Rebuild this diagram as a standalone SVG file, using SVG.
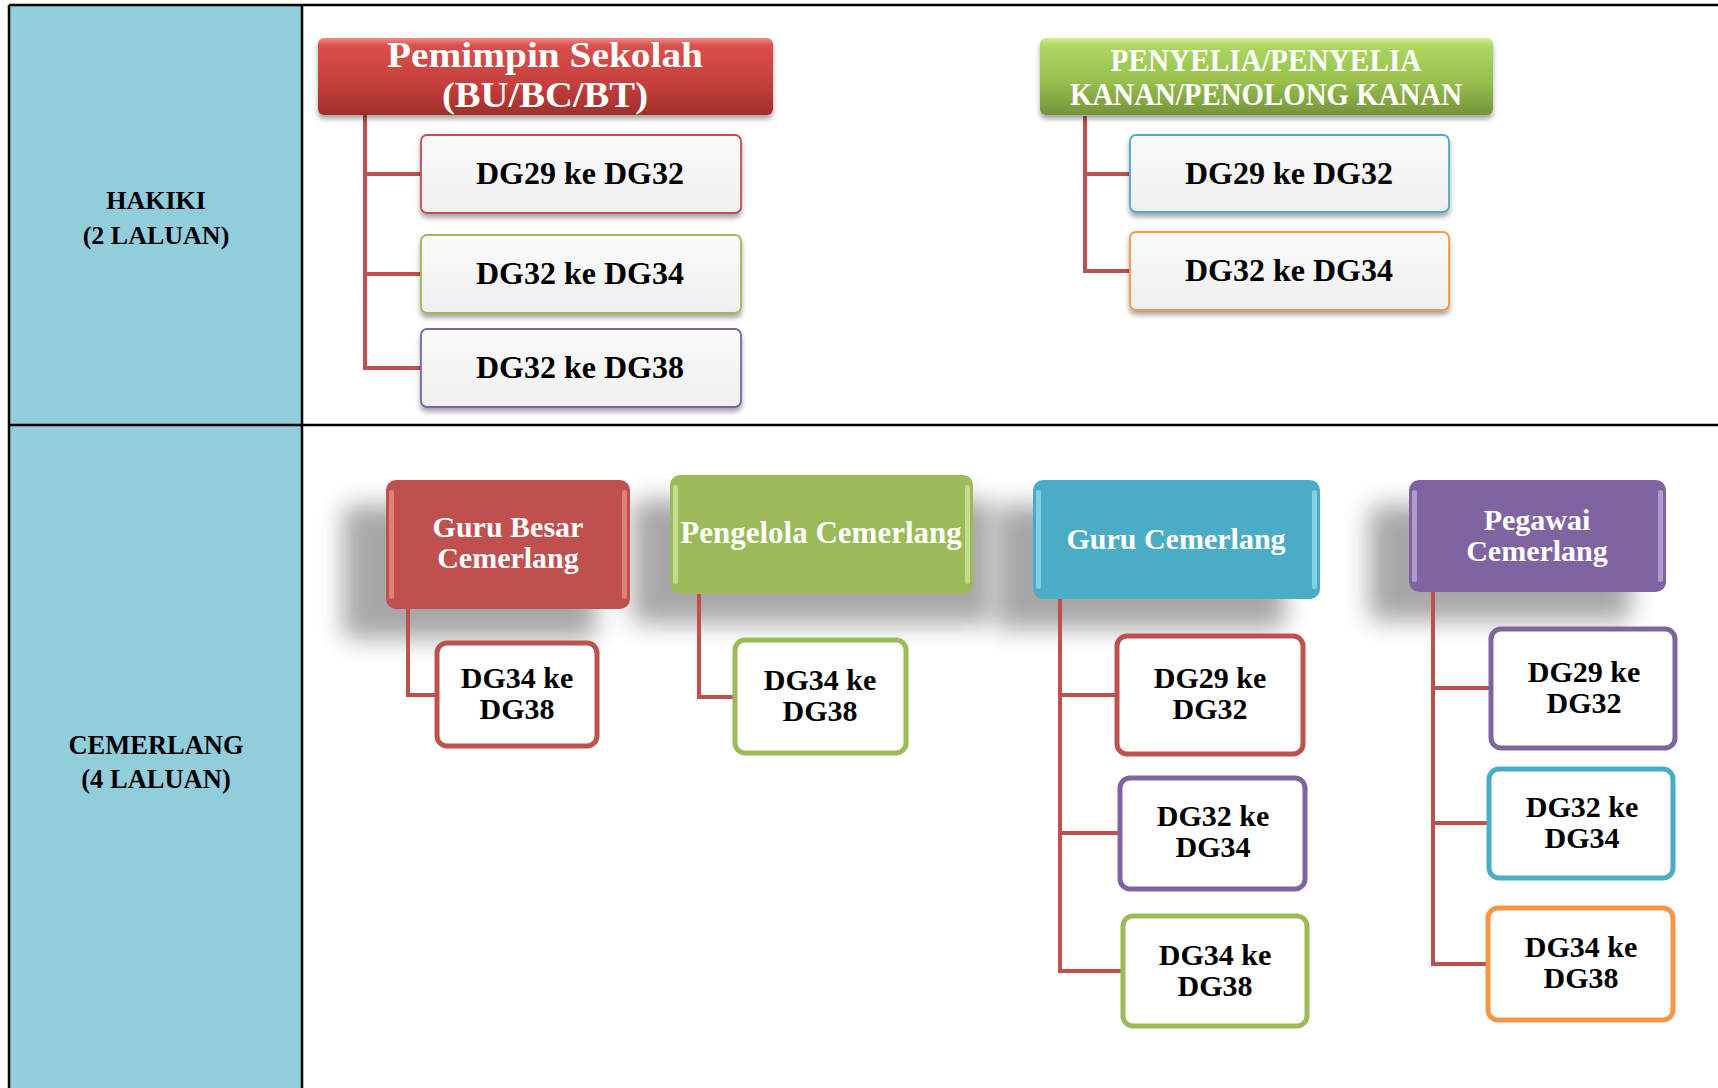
<svg xmlns="http://www.w3.org/2000/svg" width="1718" height="1088" viewBox="0 0 1718 1088">
<defs>
  <linearGradient id="gRed" x1="0" y1="0" x2="0" y2="1">
    <stop offset="0" stop-color="#F08A86"/>
    <stop offset="0.1" stop-color="#DA4F4B"/>
    <stop offset="0.55" stop-color="#C8413D"/>
    <stop offset="1" stop-color="#A12E2B"/>
  </linearGradient>
  <linearGradient id="gGreen" x1="0" y1="0" x2="0" y2="1">
    <stop offset="0" stop-color="#CFEF92"/>
    <stop offset="0.1" stop-color="#ADD761"/>
    <stop offset="0.55" stop-color="#98C14F"/>
    <stop offset="1" stop-color="#76943A"/>
  </linearGradient>
  <linearGradient id="gLight" x1="0" y1="0" x2="0" y2="1">
    <stop offset="0" stop-color="#FBFBFB"/>
    <stop offset="1" stop-color="#EFEFEF"/>
  </linearGradient>
  <filter id="drop" x="-10%" y="-20%" width="120%" height="160%">
    <feDropShadow dx="0" dy="4" stdDeviation="2.5" flood-color="#000" flood-opacity="0.35"/>
  </filter>
  <filter id="blur" x="-40%" y="-40%" width="180%" height="180%">
    <feGaussianBlur stdDeviation="12"/>
  </filter>
  <style>
    .t { font-family: "Liberation Serif", "Times New Roman", serif; font-weight: bold; text-anchor: middle; }
    .w { fill: #ffffff; }
    .k { fill: #000000; }
    .grid { stroke: #000; stroke-width: 2.5; fill: none; }
    .conn { stroke: #C0504D; stroke-width: 4; fill: none; }
    .tb { fill: url(#gLight); stroke-width: 1.8; filter: url(#drop); }
    .cb { fill: #ffffff; stroke-width: 5; }
    .sh { fill: #8a8a8a; opacity: 0.75; filter: url(#blur); }
    .hl { opacity: 0.55; }
  </style>
</defs>

<!-- table -->
<g id="table">
  <rect x="9" y="5" width="293" height="1083" fill="#92CDDC"/>
  <path class="grid" d="M9 5 H1718 M9 5 V1088 M302 5 V1088 M9 425 H1718"/>
  <text class="t k" x="156" y="209" font-size="26">HAKIKI</text>
  <text class="t k" x="156" y="244" font-size="26">(2 LALUAN)</text>
  <text class="t k" x="156" y="754" font-size="26.5">CEMERLANG</text>
  <text class="t k" x="156" y="788" font-size="26.5">(4 LALUAN)</text>
</g>

<!-- soft shadows of the lower headers -->
<g id="shadows">
  <rect class="sh" x="343" y="505" width="253" height="134" rx="10"/>
  <rect class="sh" x="632" y="500" width="360" height="124" rx="10"/>
  <rect class="sh" x="995" y="505" width="290" height="124" rx="10"/>
  <rect class="sh" x="1369" y="505" width="262" height="116" rx="10"/>
</g>

<!-- connectors -->
<g id="connectors">
  <path class="conn" d="M365 115 V368 H421 M365 174 H421 M365 274 H421"/>
  <path class="conn" d="M1085 116 V271 H1130 M1085 174 H1130"/>
  <path class="conn" d="M408 609 V695 H437"/>
  <path class="conn" d="M699 594 V697 H735"/>
  <path class="conn" d="M1060 599 V971 H1123 M1060 695 H1117 M1060 833 H1120"/>
  <path class="conn" d="M1433 592 V964 H1488 M1433 688 H1491 M1433 823 H1489"/>
</g>

<!-- HAKIKI section -->
<g id="pemimpin">
  <rect x="318" y="38" width="455" height="77" rx="6" fill="url(#gRed)" filter="url(#drop)"/>
  <text class="t w" x="545" y="67" font-size="36" textLength="316" lengthAdjust="spacingAndGlyphs">Pemimpin Sekolah</text>
  <text class="t w" x="545" y="107" font-size="36" textLength="206" lengthAdjust="spacingAndGlyphs">(BU/BC/BT)</text>
</g>
<g id="p1">
  <rect class="tb" x="421" y="135" width="320" height="78" rx="6" stroke="#C0504D"/>
  <text class="t k" x="580" y="184" font-size="32">DG29 ke DG32</text>
</g>
<g id="p2">
  <rect class="tb" x="421" y="235" width="320" height="78" rx="6" stroke="#9BBB59"/>
  <text class="t k" x="580" y="284" font-size="32">DG32 ke DG34</text>
</g>
<g id="p3">
  <rect class="tb" x="421" y="329" width="320" height="78" rx="6" stroke="#8064A2"/>
  <text class="t k" x="580" y="378" font-size="32">DG32 ke DG38</text>
</g>

<g id="penyelia">
  <rect x="1040" y="38" width="453" height="77" rx="6" fill="url(#gGreen)" filter="url(#drop)"/>
  <text class="t w" x="1266" y="71" font-size="31" textLength="311" lengthAdjust="spacingAndGlyphs">PENYELIA/PENYELIA</text>
  <text class="t w" x="1266" y="105" font-size="31" textLength="392" lengthAdjust="spacingAndGlyphs">KANAN/PENOLONG KANAN</text>
</g>
<g id="s1">
  <rect class="tb" x="1130" y="135" width="319" height="77" rx="6" stroke="#4BACC6"/>
  <text class="t k" x="1289" y="184" font-size="32">DG29 ke DG32</text>
</g>
<g id="s2">
  <rect class="tb" x="1130" y="232" width="319" height="78" rx="6" stroke="#F79646"/>
  <text class="t k" x="1289" y="281" font-size="32">DG32 ke DG34</text>
</g>

<!-- CEMERLANG section -->
<g id="guru-besar">
  <rect x="386" y="480" width="244" height="129" rx="10" fill="#C0504D"/>
  <rect class="hl" x="389" y="490" width="5" height="109" rx="2.5" fill="#F7A8A5"/>
  <rect class="hl" x="622" y="490" width="5" height="109" rx="2.5" fill="#F7A8A5"/>
  <text class="t w" x="508" y="537" font-size="30">Guru Besar</text>
  <text class="t w" x="508" y="568" font-size="30">Cemerlang</text>
</g>
<g id="gb1">
  <rect class="cb" x="437" y="643" width="160" height="103" rx="10" stroke="#C0504D"/>
  <text class="t k" x="517" y="688" font-size="30">DG34 ke</text>
  <text class="t k" x="517" y="719" font-size="30">DG38</text>
</g>

<g id="pengelola">
  <rect x="670" y="475" width="303" height="119" rx="10" fill="#9BBB59"/>
  <rect class="hl" x="673" y="485" width="5" height="99" rx="2.5" fill="#E2F7B8"/>
  <rect class="hl" x="965" y="485" width="5" height="99" rx="2.5" fill="#E2F7B8"/>
  <text class="t w" x="821" y="543" font-size="31">Pengelola Cemerlang</text>
</g>
<g id="pg1">
  <rect class="cb" x="735" y="640" width="171" height="113" rx="10" stroke="#9BBB59"/>
  <text class="t k" x="820" y="690" font-size="30">DG34 ke</text>
  <text class="t k" x="820" y="721" font-size="30">DG38</text>
</g>

<g id="guru-cemerlang">
  <rect x="1033" y="480" width="287" height="119" rx="10" fill="#4BACC6"/>
  <rect class="hl" x="1036" y="490" width="5" height="99" rx="2.5" fill="#B5EEFA"/>
  <rect class="hl" x="1312" y="490" width="5" height="99" rx="2.5" fill="#B5EEFA"/>
  <text class="t w" x="1176" y="549" font-size="30">Guru Cemerlang</text>
</g>
<g id="gc1">
  <rect class="cb" x="1117" y="636" width="186" height="118" rx="10" stroke="#C0504D"/>
  <text class="t k" x="1210" y="688" font-size="30">DG29 ke</text>
  <text class="t k" x="1210" y="719" font-size="30">DG32</text>
</g>
<g id="gc2">
  <rect class="cb" x="1120" y="778" width="185" height="111" rx="10" stroke="#8064A2"/>
  <text class="t k" x="1213" y="826" font-size="30">DG32 ke</text>
  <text class="t k" x="1213" y="857" font-size="30">DG34</text>
</g>
<g id="gc3">
  <rect class="cb" x="1123" y="916" width="184" height="110" rx="10" stroke="#9BBB59"/>
  <text class="t k" x="1215" y="965" font-size="30">DG34 ke</text>
  <text class="t k" x="1215" y="996" font-size="30">DG38</text>
</g>

<g id="pegawai">
  <rect x="1409" y="480" width="257" height="112" rx="10" fill="#8064A2"/>
  <rect class="hl" x="1412" y="490" width="5" height="92" rx="2.5" fill="#D8C8F2"/>
  <rect class="hl" x="1658" y="490" width="5" height="92" rx="2.5" fill="#D8C8F2"/>
  <text class="t w" x="1537" y="530" font-size="30">Pegawai</text>
  <text class="t w" x="1537" y="561" font-size="30">Cemerlang</text>
</g>
<g id="pw1">
  <rect class="cb" x="1491" y="629" width="184" height="119" rx="10" stroke="#8064A2"/>
  <text class="t k" x="1584" y="682" font-size="30">DG29 ke</text>
  <text class="t k" x="1584" y="713" font-size="30">DG32</text>
</g>
<g id="pw2">
  <rect class="cb" x="1489" y="769" width="184" height="109" rx="10" stroke="#4BACC6"/>
  <text class="t k" x="1582" y="817" font-size="30">DG32 ke</text>
  <text class="t k" x="1582" y="848" font-size="30">DG34</text>
</g>
<g id="pw3">
  <rect class="cb" x="1488" y="908" width="185" height="112" rx="10" stroke="#F79646"/>
  <text class="t k" x="1581" y="957" font-size="30">DG34 ke</text>
  <text class="t k" x="1581" y="988" font-size="30">DG38</text>
</g>
</svg>
